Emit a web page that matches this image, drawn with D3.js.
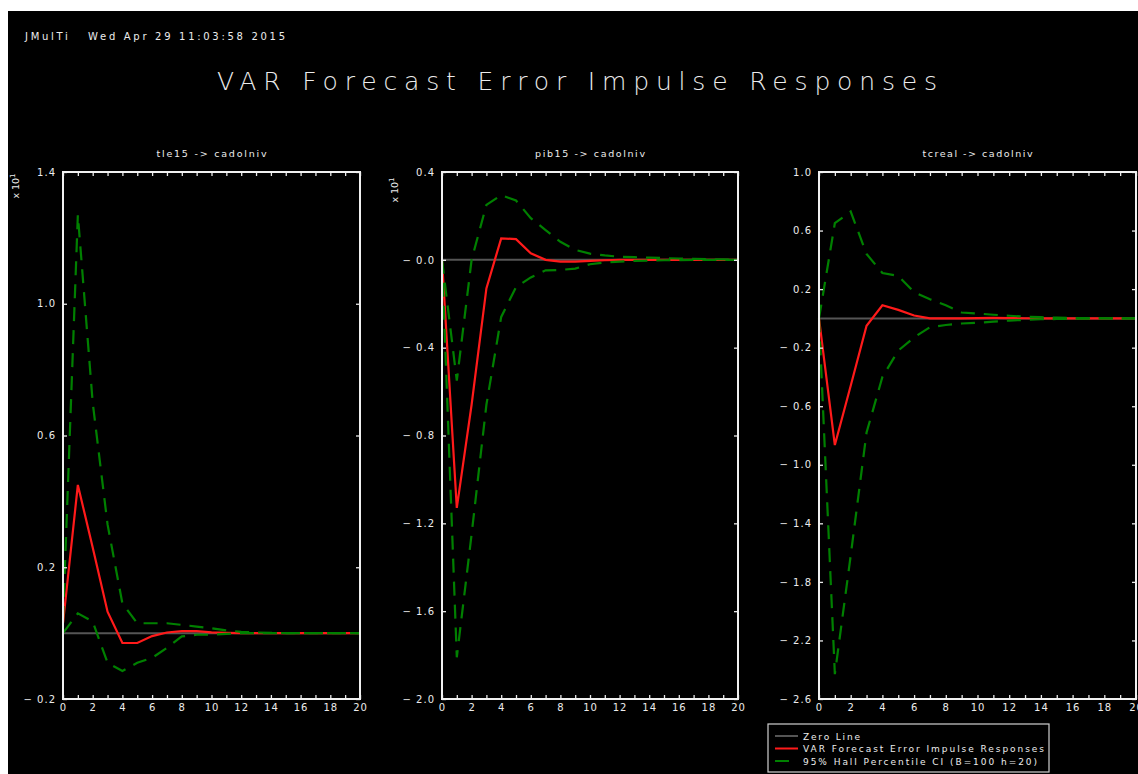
<!DOCTYPE html>
<html>
<head>
<meta charset="utf-8">
<script src="https://cdn.jsdelivr.net/npm/d3@7"></script>
<style>
  html, body { margin: 0; padding: 0; background: #fff; }
  svg { display: block; }
  text { font-family: "DejaVu Sans", sans-serif; fill: #ececec; white-space: pre; }
</style>
</head>
<body>
<script>
// horizons 0..20
const horizon = [0,1,2,3,4,5,6,7,8,9,10,11,12,13,14,15,16,17,18,19,20]

// tle15 -> cadolniv
const irf1 = [0.03, 0.45, 0.26, 0.065, -0.03, -0.03, -0.009, 0.002, 0.006, 0.006, 0.002, 0.001, 0, 0, 0, 0, 0, 0, 0, 0, 0]
const up1 = [0.04, 1.27, 0.70, 0.33, 0.09, 0.03, 0.03, 0.03, 0.025, 0.02, 0.015, 0.008, 0.004, 0.002, 0.001, 0, 0, 0, 0, 0, 0]
const lo1 = [0.0, 0.06, 0.035, -0.09, -0.115, -0.09, -0.075, -0.045, -0.01, -0.005, -0.005, -0.002, 0, 0, 0, 0, 0, 0, 0, 0, 0]

// pib15 -> cadolniv
const irf2 = [0.0, -1.13, -0.66, -0.13, 0.098, 0.094, 0.03, 0.0, -0.008, -0.008, -0.005, -0.002, 0, 0, 0, 0, 0, 0, 0, 0, 0]
const up2 = [0.0, -0.55, 0.0, 0.25, 0.295, 0.27, 0.19, 0.135, 0.082, 0.045, 0.028, 0.02, 0.014, 0.012, 0.01, 0.008, 0.006, 0.004, 0.003, 0.002, 0.001]
const lo2 = [0.0, -1.81, -1.25, -0.66, -0.26, -0.125, -0.08, -0.048, -0.046, -0.04, -0.02, -0.012, -0.008, -0.005, -0.003, -0.002, -0.001, 0, 0, 0, 0]

// tcreal -> cadolniv
const irf3 = [0.0, -0.865, -0.46, -0.05, 0.09, 0.058, 0.02, 0.0, 0.0, 0.0, 0.002, 0.003, 0.002, 0.001, 0, 0, 0, 0, 0, 0, 0]
const up3 = [0.0, 0.65, 0.73, 0.44, 0.31, 0.29, 0.18, 0.13, 0.09, 0.04, 0.033, 0.025, 0.018, 0.012, 0.008, 0.005, 0.003, 0.002, 0.001, 0, 0]
const lo3 = [0.0, -2.43, -1.62, -0.78, -0.40, -0.22, -0.13, -0.06, -0.045, -0.035, -0.03, -0.022, -0.015, -0.01, -0.006, -0.004, -0.002, -0.001, 0, 0, 0]

const titles = ['tle15 -> cadolniv', 'pib15 -> cadolniv', 'tcreal -> cadolniv']
const yTicks1 = [1.4, 1.0, 0.6, 0.2, -0.2]
const yLabels1 = ['1.4', '1.0', '0.6', '0.2', '\u2212 0.2']
const yTicks2 = [0.4, 0.0, -0.4, -0.8, -1.2, -1.6, -2.0]
const yLabels2 = ['0.4', '\u2212 0.0', '\u2212 0.4', '\u2212 0.8', '\u2212 1.2', '\u2212 1.6', '\u2212 2.0']
const yTicks3 = [1.0, 0.6, 0.2, -0.2, -0.6, -1.0, -1.4, -1.8, -2.2, -2.6]
const yLabels3 = ['1.0', '0.6', '0.2', '\u2212 0.2', '\u2212 0.6', '\u2212 1.0', '\u2212 1.4', '\u2212 1.8', '\u2212 2.2', '\u2212 2.6']

const legendLabels = ['Zero Line', 'VAR Forecast Error Impulse Responses', '95% Hall Percentile CI (B=100 h=20)']

const w = 1138
const h = 774
const green = '#008000'
const red = '#ff1a1a'
const zeroColor = '#555'

const svg = d3.select('body').append('svg')
    .attr('width', w)
    .attr('height', h)

svg.append('rect')
    .attr('x', 8).attr('y', 11)
    .attr('width', w - 8).attr('height', h - 11)
    .attr('fill', '#000')

svg.append('text')
    .attr('x', 25).attr('y', 40)
    .attr('font-size', 10)
    .attr('textLength', 260)
    .attr('lengthAdjust', 'spacing')
    .text('JMulTi   Wed Apr 29 11:03:58 2015')

svg.append('text')
    .attr('x', 217).attr('y', 90)
    .attr('font-size', 25)
    .attr('font-weight', 200)
    .attr('textLength', 720)
    .attr('lengthAdjust', 'spacing')
    .text('VAR Forecast Error Impulse Responses')

const panels = [
    { x0: 63, x1: 360, domain: [-0.2, 1.4], ticks: yTicks1, labels: yLabels1, irf: irf1, up: up1, lo: lo1, mult: true },
    { x0: 442, x1: 738, domain: [-2.0, 0.4], ticks: yTicks2, labels: yLabels2, irf: irf2, up: up2, lo: lo2, mult: true },
    { x0: 819, x1: 1136, domain: [-2.6, 1.0], ticks: yTicks3, labels: yLabels3, irf: irf3, up: up3, lo: lo3, mult: false }
]
const plotTop = 172
const plotBottom = 699

panels.forEach((p, i) => {
    const x = d3.scaleLinear().domain([0, 20]).range([p.x0, p.x1])
    const y = d3.scaleLinear().domain(p.domain).range([plotBottom, plotTop])
    const g = svg.append('g')

    const line = d3.line()
        .x((d, j) => x(horizon[j]))
        .y(d => y(d))

    // zero line
    g.append('line')
        .attr('x1', x(0)).attr('x2', x(20))
        .attr('y1', y(0)).attr('y2', y(0))
        .attr('stroke', zeroColor)
        .attr('stroke-width', 2)

    g.append('path')
        .datum(p.irf)
        .attr('d', line)
        .attr('fill', 'none')
        .attr('stroke', red)
        .attr('stroke-width', 2.2)

    ;[p.up, p.lo].forEach(s => {
        g.append('path')
            .datum(s)
            .attr('d', line)
            .attr('fill', 'none')
            .attr('stroke', green)
            .attr('stroke-width', 2.2)
            .attr('stroke-dasharray', '14,9')
    })

    const styleAxis = a => {
        a.select('.domain').remove()
        a.selectAll('line').attr('stroke', '#e8e8e8').attr('stroke-width', 1.3)
        a.selectAll('text')
            .attr('font-family', '"DejaVu Sans", sans-serif')
            .attr('font-size', 10)
            .attr('letter-spacing', 1)
            .attr('fill', '#ececec')
    }

    const xMajor = d => d % 2 === 0 ? d : ''
    g.append('g')
        .attr('transform', `translate(0, ${plotBottom})`)
        .call(d3.axisBottom(x).tickValues(horizon).tickSize(-4).tickPadding(5).tickFormat(xMajor))
        .call(styleAxis)
    g.append('g')
        .attr('transform', `translate(0, ${plotTop})`)
        .call(d3.axisTop(x).tickValues(horizon).tickSize(-4).tickFormat(''))
        .call(styleAxis)
    g.append('g')
        .attr('transform', `translate(${p.x0}, 0)`)
        .call(d3.axisLeft(y).tickValues(p.ticks).tickSize(-4).tickPadding(7).tickFormat((d, j) => p.labels[j]))
        .call(styleAxis)
    g.append('g')
        .attr('transform', `translate(${p.x1}, 0)`)
        .call(d3.axisRight(y).tickValues(p.ticks).tickSize(-4).tickFormat(''))
        .call(styleAxis)

    g.append('rect')
        .attr('x', p.x0).attr('y', plotTop)
        .attr('width', p.x1 - p.x0).attr('height', plotBottom - plotTop)
        .attr('fill', 'none')
        .attr('stroke', '#f0f0f0')
        .attr('stroke-width', 2)

    g.append('text')
        .attr('x', (p.x0 + p.x1) / 2 - 55).attr('y', 157)
        .attr('font-size', 9.5)
        .attr('textLength', 110)
        .attr('lengthAdjust', 'spacing')
        .text(titles[i])

    if (p.mult) {
        const mx = i === 0 ? 19 : 398
        const my = i === 0 ? 186 : 190
        const t = g.append('text')
            .attr('transform', `translate(${mx}, ${my}) rotate(-90)`)
            .attr('text-anchor', 'middle')
            .attr('font-size', 9.5)
        t.append('tspan').text('x 10')
        t.append('tspan').attr('font-size', 7).attr('dy', -4).text('1')
    }
})

// legend
const lg = svg.append('g').attr('transform', 'translate(768, 724)')
lg.append('rect')
    .attr('width', 281).attr('height', 48)
    .attr('fill', '#000')
    .attr('stroke', '#d0d0d0')
    .attr('stroke-width', 1.2)
const legendStyles = [
    { color: zeroColor, len: 23, tw: 57 },
    { color: red, len: 23, tw: 241 },
    { color: green, len: 14, tw: 234 }
]
legendLabels.forEach((lab, j) => {
    const yy = 12 + j * 12.5
    lg.append('line')
        .attr('x1', 7).attr('x2', 7 + legendStyles[j].len)
        .attr('y1', yy).attr('y2', yy)
        .attr('stroke', legendStyles[j].color)
        .attr('stroke-width', 2)
    lg.append('text')
        .attr('x', 35).attr('y', yy + 3.5)
        .attr('font-size', 9)
        .attr('textLength', legendStyles[j].tw)
        .attr('lengthAdjust', 'spacing')
        .text(lab)
})
</script>
</body>
</html>
